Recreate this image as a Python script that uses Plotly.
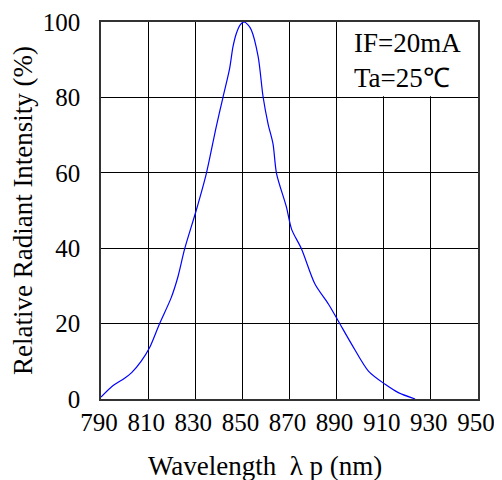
import plotly.graph_objects as go

wavelength = [790, 795, 800, 803, 807, 810.6, 814.8, 819.8, 822.6, 825.5, 830.4, 834.7, 838.9,
              841.8, 844.6, 846, 847.4, 849, 850.7, 852.3, 853.8, 856.7, 858.8, 860.9, 863,
              864.5, 868.7, 870.9, 875.1, 880.8, 886.5, 890.7, 896.4, 903.5, 910.6, 916.2, 923.3]
intensity = [0.5, 3.5, 5.5, 7, 10, 13.6, 19.9, 26.9, 32.3, 39.8, 50, 59.8, 72.2,
             80.1, 87.7, 93.4, 96.9, 99.2, 100, 99.3, 97.9, 90.8, 80.1, 73, 67.7,
             59.8, 50.9, 45, 39.8, 30.5, 25.2, 20.7, 14.5, 7.4, 3.9, 1.7, 0]

x_ticks = [790, 810, 830, 850, 870, 890, 910, 930, 950]
y_ticks = [0, 20, 40, 60, 80, 100]
note_lines = ["IF=20mA", "Ta=25℃"]
x_title = "Wavelength  λ p (nm)"
y_title = "Relative Radiant Intensity (%)"

FONT = "Liberation Serif"

fig = go.Figure()
fig.add_trace(go.Scatter(x=wavelength, y=intensity, mode="lines",
                         line=dict(color="#0000ff", width=1.2, shape="spline", smoothing=0.8),
                         showlegend=False, hoverinfo="skip"))

fig.add_shape(type="rect", xref="x", yref="y", x0=890.4, x1=950, y0=80.3, y1=100,
              fillcolor="white", line=dict(width=0), layer="between")

fig.add_annotation(x=0.665, y=0.99, xref="paper", yref="paper", xanchor="left", yanchor="top",
                   text=note_lines[0] + "<br>" + note_lines[1], showarrow=False, align="left",
                   font=dict(family=FONT, size=27, color="black"))

fig.add_annotation(x=0.436, y=-0.177, xref="paper", yref="paper", xanchor="center", yanchor="middle",
                   text=x_title, showarrow=False,
                   font=dict(family=FONT, size=27, color="black"))

axis_common = dict(showgrid=True, gridcolor="black", gridwidth=1, showline=True, linecolor="#333",
                   linewidth=1.5, mirror=True, zeroline=False, ticks="", automargin=False,
                   ticklabeloverflow="allow",
                   tickfont=dict(family=FONT, size=25, color="black"))

fig.update_xaxes(range=[790, 950], tickvals=x_ticks, ticktext=[str(v) for v in x_ticks],
                 ticklabelstandoff=0, ticklabelshift=-2, **axis_common)
fig.update_yaxes(range=[0, 100], tickvals=y_ticks, ticktext=[str(v) for v in y_ticks],
                 title=dict(text=y_title, font=dict(family=FONT, size=27, color="black"), standoff=4),
                 ticklabelstandoff=14, **axis_common)

fig.update_layout(width=494, height=472, margin=dict(l=93, r=24, t=14, b=81),
                  plot_bgcolor="white", paper_bgcolor="white")

fig.write_html("out.html")
